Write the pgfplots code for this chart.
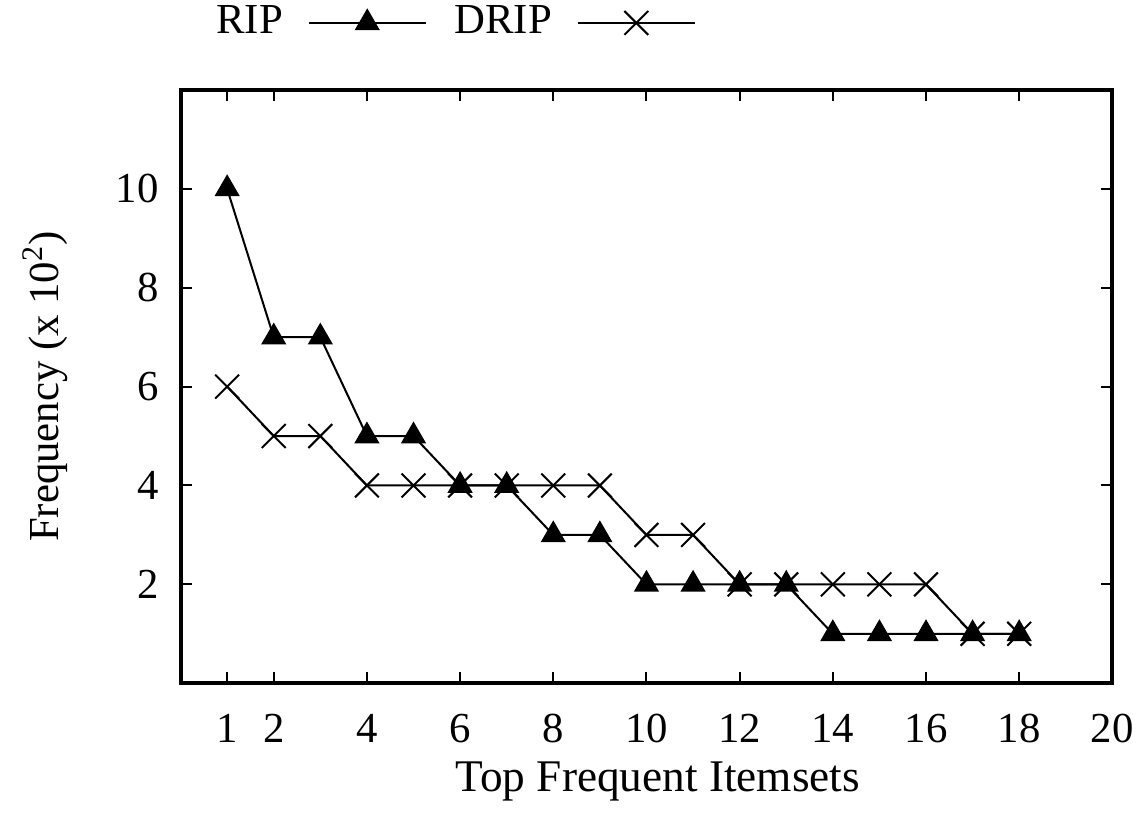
\documentclass[border=0pt]{standalone}
\usepackage{fontspec}
\setmainfont{Liberation Serif}
\usepackage{pgfplots}
\pgfplotsset{compat=1.18}
\begin{document}
\fontsize{17}{20}\selectfont
\begin{tikzpicture}
\begin{axis}[
  at={(0,0)}, anchor=south west,
  scale only axis, width=13.02cm, height=8.29cm,
  xmin=0, xmax=20, ymin=0, ymax=12,
  xtick={1,2,4,6,8,10,12,14,16,18,20},
  ytick={2,4,6,8,10},
  tick align=inside,
  major tick length=0.16cm,
  axis line style={line width=1.6pt},
  tick style={line width=0.8pt, black},
  /pgf/number format/assume math mode=true,
  ticklabel style={font=\fontsize{17}{20}\selectfont},
  xticklabel style={yshift=-0.2cm, text height=12pt, text depth=0pt},
  yticklabel style={xshift=-0.1cm},
  label style={font=\fontsize{17}{20}\selectfont},
  xlabel={Top Frequent Itemsets},
  ylabel={Frequency (x 10\textsuperscript{2})},
  xlabel style={yshift=0.13cm, xshift=0.16cm, font=\fontsize{18}{21}\selectfont},
  ylabel style={yshift=0.27cm},
  legend columns=2,
  legend plot pos=right,
  legend style={draw=none, fill=none, at={(0.0225,1.113)}, anchor=west,
    font=\fontsize{17}{20}\selectfont, inner sep=0pt,
    nodes={inner xsep=0.2cm, inner ysep=0pt}},
  /tikz/every even column/.append style={column sep=0.19cm},
  /tikz/every odd column/.append style={column sep=0.15cm},
  legend image code/.code={\draw[#1, mark repeat=2, mark phase=2] plot coordinates {(0cm,0cm) (0.815cm,0cm) (1.63cm,0cm)};},
]
\addplot[black, line width=0.8pt, mark=triangle*, mark size=5pt, mark options={solid, fill=black}] coordinates {
(1,10) (2,7) (3,7) (4,5) (5,5) (6,4) (7,4) (8,3) (9,3) (10,2) (11,2) (12,2) (13,2) (14,1) (15,1) (16,1) (17,1) (18,1)};
\addlegendentry{RIP}
\addplot[black, line width=0.8pt, mark=x, mark size=6.7pt, mark options={solid}] coordinates {
(1,6) (2,5) (3,5) (4,4) (5,4) (6,4) (7,4) (8,4) (9,4) (10,3) (11,3) (12,2) (13,2) (14,2) (15,2) (16,2) (17,1) (18,1)};
\addlegendentry{DRIP}
\end{axis}
\path[use as bounding box] (-2.523cm,-1.826cm) rectangle (13.477cm,9.547cm);
\end{tikzpicture}
\end{document}
